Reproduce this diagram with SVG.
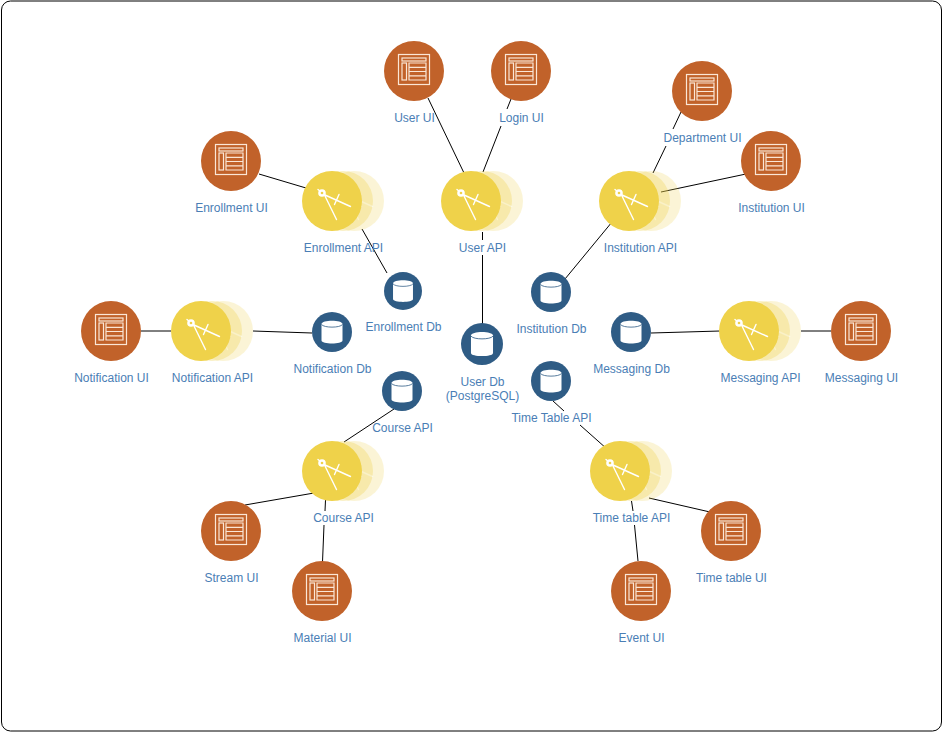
<svg xmlns="http://www.w3.org/2000/svg" width="944" height="734" viewBox="0 0 944 734">
<style>
text{font-family:"Liberation Sans",Arial,sans-serif;font-size:12px;fill:#4A7EB5;text-anchor:middle}
.c{fill:none;stroke:#000;stroke-width:1}
.w{fill:none;stroke:#FBE6D6;stroke-width:1.2}
.ui{fill:#C1622A}
.api{fill:#EFD24A}
.db{fill:#2F5C85}
</style>
<defs>
<g id="compass">
<path d="M-14-11.500-11-9M-7-6 18.500 5.500M-7-5 4.500 18.500M7-6.500 2.500 3.500" fill="none" stroke="#FFF" stroke-width="1.400" stroke-linecap="round"/>
<circle cx="-10" cy="-8" r="3.800" fill="#FFF"/>
<circle cx="-10" cy="-8" r="1.300" fill="#EFD24A"/>
</g>
<g id="i-ui">
<circle class="ui" r="30"/>
<rect class="w" x="-15.500" y="-16.500" width="31" height="30"/>
<rect class="w" x="-12" y="-13" width="24" height="3"/>
<rect class="w" x="-12" y="-8" width="4.500" height="17"/>
<path class="w" d="M-5-8H12V9H-5ZM-5-3.700H12M-5 .5H12M-5 4.800H12"/>
</g>
<g id="i-api">
<g opacity=".22" transform="translate(22 0)"><circle class="api" r="30"/><use href="#compass"/></g>
<g opacity=".3" transform="translate(11 0)"><circle class="api" r="30"/><use href="#compass"/></g>
<circle class="api" r="30"/>
<use href="#compass"/>
</g>
<g id="i-db">
<circle class="db" r="20"/>
<path d="M-10.500-8C-10.500-12.500 10.500-12.500 10.500-8V8.500C10.500 12.500-10.500 12.500-10.500 8.500Z" fill="#FFF"/>
<path d="M-10.500-7.500C-8-4 8-4 10.500-7.500" fill="none" stroke="#2F5C85" stroke-width=".8"/>
</g>
</defs>
<rect x="1.500" y="1" width="940" height="730" rx="9" fill="#FFF" stroke="#000" stroke-width="1"/>
<g id="connectors">
<path class="c" d="M428 98 464 173"/>
<path class="c" d="M511 99 507 109M501 126 483 172"/>
<path class="c" d="M482.500 232V240M482.500 255V324"/>
<path class="c" d="M362 229 387 273"/>
<path class="c" d="M259 174 306 188"/>
<path class="c" d="M681 112 673 129M666 146 653 173"/>
<path class="c" d="M746 174 661 192"/>
<path class="c" d="M612 222 565 279"/>
<path class="c" d="M141 331H171"/>
<path class="c" d="M253 331 312 333"/>
<path class="c" d="M651 333 720 331"/>
<path class="c" d="M801 331H831"/>
<path class="c" d="M394 409 344 442"/>
<path class="c" d="M245 505 314 493"/>
<path class="c" d="M325.500 500 325 511M324 525 322.500 562"/>
<path class="c" d="M553 401 564 411M580 425 607 449"/>
<path class="c" d="M631.500 501 633 511M634.500 525 638 561"/>
<path class="c" d="M649 498 710 512"/>
</g>
<g id="user-ui"><use href="#i-ui" x="414" y="71"/><text x="414.500" y="122">User UI</text></g>
<g id="login-ui"><use href="#i-ui" x="521" y="71"/><text x="521.500" y="122">Login UI</text></g>
<g id="department-ui"><use href="#i-ui" x="702" y="91"/><text x="702.500" y="142">Department UI</text></g>
<g id="institution-ui"><use href="#i-ui" x="771" y="161"/><text x="771.500" y="212">Institution UI</text></g>
<g id="enrollment-ui"><use href="#i-ui" x="231" y="161"/><text x="231.500" y="212">Enrollment UI</text></g>
<g id="notification-ui"><use href="#i-ui" x="111" y="331"/><text x="111.500" y="382">Notification UI</text></g>
<g id="messaging-ui"><use href="#i-ui" x="861" y="331"/><text x="861.500" y="382">Messaging UI</text></g>
<g id="stream-ui"><use href="#i-ui" x="231" y="531"/><text x="231.500" y="582">Stream UI</text></g>
<g id="material-ui"><use href="#i-ui" x="322" y="591"/><text x="322.500" y="642">Material UI</text></g>
<g id="event-ui"><use href="#i-ui" x="641" y="591"/><text x="641.500" y="642">Event UI</text></g>
<g id="time-table-ui"><use href="#i-ui" x="731" y="531"/><text x="731.500" y="582">Time table UI</text></g>
<g id="user-api"><use href="#i-api" x="471" y="201"/><text x="482.500" y="252">User API</text></g>
<g id="enrollment-api"><use href="#i-api" x="332" y="201"/><text x="343.500" y="252">Enrollment API</text></g>
<g id="institution-api"><use href="#i-api" x="629" y="201"/><text x="640.500" y="252">Institution API</text></g>
<g id="notification-api"><use href="#i-api" x="201" y="331"/><text x="212.500" y="382">Notification API</text></g>
<g id="messaging-api"><use href="#i-api" x="749" y="331"/><text x="760.500" y="382">Messaging API</text></g>
<g id="course-api"><use href="#i-api" x="332" y="471"/><text x="343.500" y="522">Course API</text></g>
<g id="time-table-api"><use href="#i-api" x="620" y="471"/><text x="631.500" y="522">Time table API</text></g>
<g id="enrollment-db"><use href="#i-db" transform="translate(403 291) scale(.95)"/><text x="403.500" y="331">Enrollment Db</text></g>
<g id="institution-db"><use href="#i-db" x="551" y="292"/><text x="551.500" y="333">Institution Db</text></g>
<g id="user-db"><use href="#i-db" transform="translate(482 344) scale(1.05)"/><text x="482.500" y="386">User Db</text><text x="482.500" y="400">(PostgreSQL)</text></g>
<g id="notification-db"><use href="#i-db" x="332" y="332"/><text x="332.500" y="373">Notification Db</text></g>
<g id="messaging-db"><use href="#i-db" x="631" y="332"/><text x="631.500" y="373">Messaging Db</text></g>
<g id="course-db"><use href="#i-db" x="402" y="391"/><text x="402.500" y="432">Course API</text></g>
<g id="time-table-db"><use href="#i-db" x="551" y="381"/><text x="551.500" y="422">Time Table API</text></g>
</svg>
